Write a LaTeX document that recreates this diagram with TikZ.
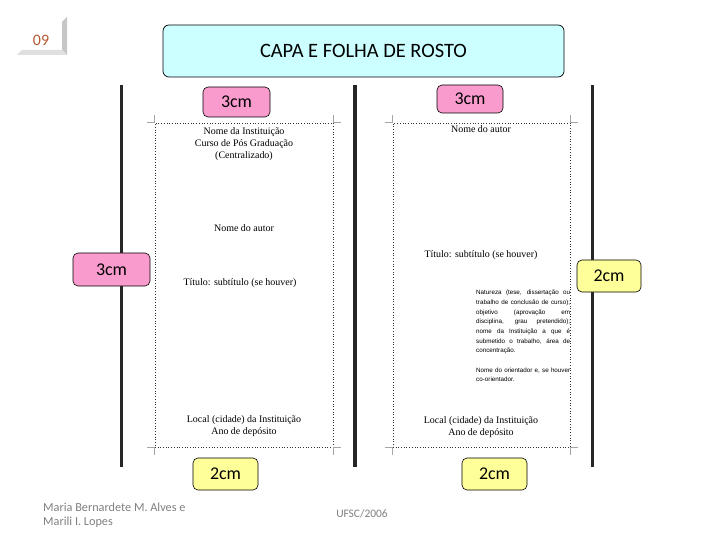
\documentclass[tikz,border=0pt]{standalone}
\usepackage{fontspec}
\setmainfont{Liberation Serif}
\newfontfamily\labelfont{Carlito}
\newfontfamily\tinyfont{Liberation Sans}
\definecolor{titlefill}{HTML}{CCFFFF}
\definecolor{pinkfill}{HTML}{F99CCD}
\definecolor{yellowfill}{HTML}{FFFF99}
\definecolor{numcol}{HTML}{B5562E}
\definecolor{footgray}{HTML}{7F7F7F}
\tikzset{
  lab/.style={draw=black, rounded corners=5bp, line width=0.6bp, font=\labelfont\fontsize{18}{20}\selectfont, inner sep=0pt},
  pinklab/.style={lab, fill=pinkfill},
  yellab/.style={lab, fill=yellowfill},
  rule/.style={line width=3bp, draw=black!85},
  page/.style={draw=black!80, dotted, line width=0.7bp},
  crop/.style={draw=black!35, line width=0.5bp},
  ptxt/.style={font=\fontsize{10}{12}\selectfont, inner sep=0pt, align=center},
  foot/.style={font=\labelfont\fontsize{11.5}{14}\selectfont, text=footgray, inner sep=0pt}
}
\newcommand{\jl}[1]{\makebox[94bp][s]{#1}\\}
\begin{document}
\begin{tikzpicture}[x=1bp,y=-1bp]
\useasboundingbox (0,0) rectangle (720,540);
% page number decoration
\fill[black!22] (62,22) -- (67,17) -- (67,55) -- (62,50) -- cycle;
\fill[black!12] (22,50) -- (62,50) -- (67,55) -- (17,55) -- cycle;
\node[font=\labelfont\fontsize{16}{18}\selectfont, text=numcol, inner sep=0pt] (num) at (41,40) {09};
% title
\node[draw=black, fill=titlefill, rounded corners=6bp, line width=0.7bp, minimum width=401bp, minimum height=52bp, font=\labelfont\fontsize{20.5}{22}\selectfont] (title) at (363.5,51) {CAPA E FOLHA DE ROSTO};
% thick rules
\coordinate (r1t) at (121,85); \coordinate (r1b) at (121,467);
\coordinate (r2t) at (355,85); \coordinate (r2b) at (355,467);
\coordinate (r3t) at (592,85); \coordinate (r3b) at (592,467);
\draw[rule] (r1t) -- (r1b);
\draw[rule, line width=4bp] (r2t) -- (r2b);
\draw[rule] (r3t) -- (r3b);
% pages
\node[page, minimum width=178bp, minimum height=324bp, inner sep=0pt] (p1) at (244,285) {};
\node[page, minimum width=177bp, minimum height=324bp, inner sep=0pt] (p2) at (481.5,285) {};
% crop marks
\foreach \p in {p1,p2}{
  \draw[crop] (\p.north west) -- ++(-8,0);
  \draw[crop] (\p.north west) -- ++(0,-8);
  \draw[crop] (\p.north east) -- ++(8,0);
  \draw[crop] (\p.north east) -- ++(0,-8);
  \draw[crop] (\p.south west) -- ++(-8,0);
  \draw[crop] (\p.south west) -- ++(0,8);
  \draw[crop] (\p.south east) -- ++(8,0);
  \draw[crop] (\p.south east) -- ++(0,8);
}
% left page texts
\node[ptxt] (inst) at (244,144) {Nome da Instituição\\Curso de Pós Graduação\\(Centralizado)};
\node[ptxt] (autor1) at (244,228) {Nome do autor};
\node[ptxt] (tit1) at (240,283) {Título: subtítulo (se houver)};
\node[ptxt] (local1) at (244,426) {Local (cidade) da Instituição\\Ano de depósito};
% right page texts
\node[ptxt] (autor2) at (481,129) {Nome do autor};
\node[ptxt] (tit2) at (481,255) {Título: subtítulo (se houver)};
\node[anchor=north west, inner sep=0pt, align=left, font=\tinyfont\fontsize{6.3}{9.7}\selectfont] (nat) at (476,290) {%
\jl{Natureza (tese, dissertação ou}
\jl{trabalho de conclusão de curso);}
\jl{objetivo (aprovação em}
\jl{disciplina, grau pretendido);}
\jl{nome da Instituição a que é}
\jl{submetido o trabalho, área de}
concentração.\\[9.7bp]
\jl{Nome do orientador e, se houver}
co-orientador.};
\node[ptxt] (local2) at (481,427) {Local (cidade) da Instituição\\Ano de depósito};
% labels
\node[pinklab, minimum width=67bp, minimum height=30bp] (m1) at (236.5,102) {3cm};
\node[pinklab, minimum width=66bp, minimum height=28bp] (m2) at (470,99) {3cm};
\node[pinklab, minimum width=77bp, minimum height=33bp] (m3) at (111.5,269.5) {3cm};
\node[yellab, minimum width=65bp, minimum height=32bp] (m4) at (225.5,474) {2cm};
\node[yellab, minimum width=65bp, minimum height=32bp] (m5) at (494.5,474) {2cm};
\node[yellab, minimum width=64bp, minimum height=32bp] (m6) at (609,276) {2cm};
% footer
\node[foot, anchor=west, align=left, font=\labelfont\fontsize{12.3}{14}\selectfont] (auth) at (43,515) {Maria Bernardete M. Alves e\\Marili I. Lopes};
\node[foot] (ufsc) at (362,514) {UFSC/2006};
\end{tikzpicture}
\end{document}
